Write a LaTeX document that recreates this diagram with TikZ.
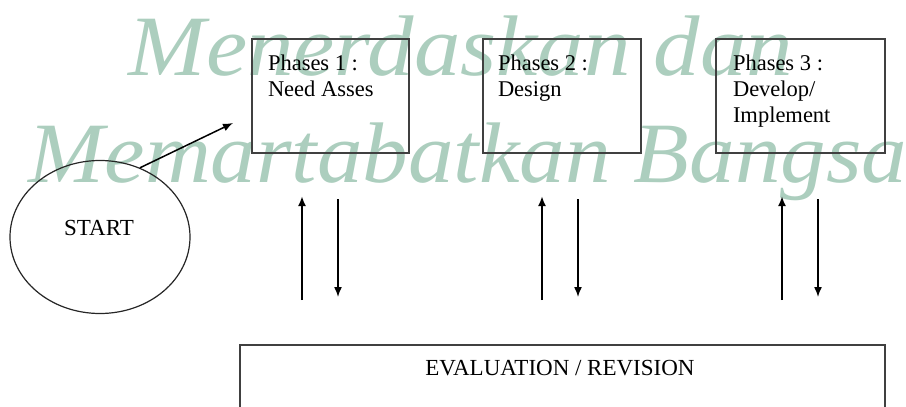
\documentclass[tikz,border=0pt]{standalone}
\usepackage{fontspec}
\setmainfont{Liberation Serif}
\usetikzlibrary{arrows.meta,shapes.geometric}
\definecolor{mottogreen}{RGB}{172,206,190}
\begin{document}
\begin{tikzpicture}[x=1pt,y=-1pt,line width=1.2pt,
        phasebox/.style={draw=black!75,minimum width=#1,minimum height=114pt,inner sep=0pt},
        phasetext/.style={anchor=north west,inner sep=0pt,align=left,font=\fontsize{22.5}{26}\selectfont},
        motto/.style={mottogreen,font=\fontsize{86}{86}\selectfont\itshape,anchor=base west,inner sep=0pt,xscale=#1,transform shape},
        uparr/.style={line width=2pt,-{Latex[length=10pt,width=8pt]}},
        dnarr/.style={line width=1.5pt,-{Latex[length=10pt,width=8pt]}}]
        \useasboundingbox (0,0) rectangle (906,407);
        \clip (0,0) rectangle (906,407);
        % watermark
        \node[motto=1.08] (motto1) at (128,75) {Menerdaskan dan};
        \node[motto=1.06] (motto2) at (28,182) {Memartabatkan Bangsa};
        % phases
        \node[phasebox=157pt] (p1) at (330.5,96) {};
        \node[phasebox=158pt] (p2) at (562,96) {};
        \node[phasebox=169pt] (p3) at (800.5,96) {};
        \node[phasetext] (t1) at ([shift={(16,16)}]p1.north west) {Phases 1 :\\Need Asses};
        \node[phasetext] (t2) at ([shift={(15,16)}]p2.north west) {Phases 2 :\\Design};
        \node[phasetext] (t3) at ([shift={(17,16)}]p3.north west) {Phases 3 :\\Develop/\\Implement};
        % start
        \node[draw=black!85,ellipse,minimum width=180pt,minimum height=153pt,inner sep=0pt] (start) at (100,237) {};
        \node[font=\fontsize{23}{26}\selectfont,inner sep=0pt] (starttxt) at (99,228) {START};
        \coordinate (a1) at (233,123);
        \draw[line width=1.5pt,-{Latex[length=10pt,width=8pt]}] (start.60) -- (a1);
        % evaluation
        \node[draw=black!75,minimum width=645pt,minimum height=64pt,inner sep=0pt] (ev) at (562.5,377) {};
        \node[font=\fontsize{23}{26}\selectfont,inner sep=0pt] (evtxt) at (560,368) {EVALUATION / REVISION};
        \foreach \i/\u/\d in {1/302/338, 2/542/578, 3/782/818} {
                \coordinate (ua\i) at (\u,300);
                \coordinate (ub\i) at (\u,196);
                \coordinate (da\i) at (\d,199);
                \coordinate (db\i) at (\d,297);
                \draw[uparr] (ua\i) -- (ub\i);
                \draw[dnarr] (da\i) -- (db\i);
        }
\end{tikzpicture}
\end{document}
